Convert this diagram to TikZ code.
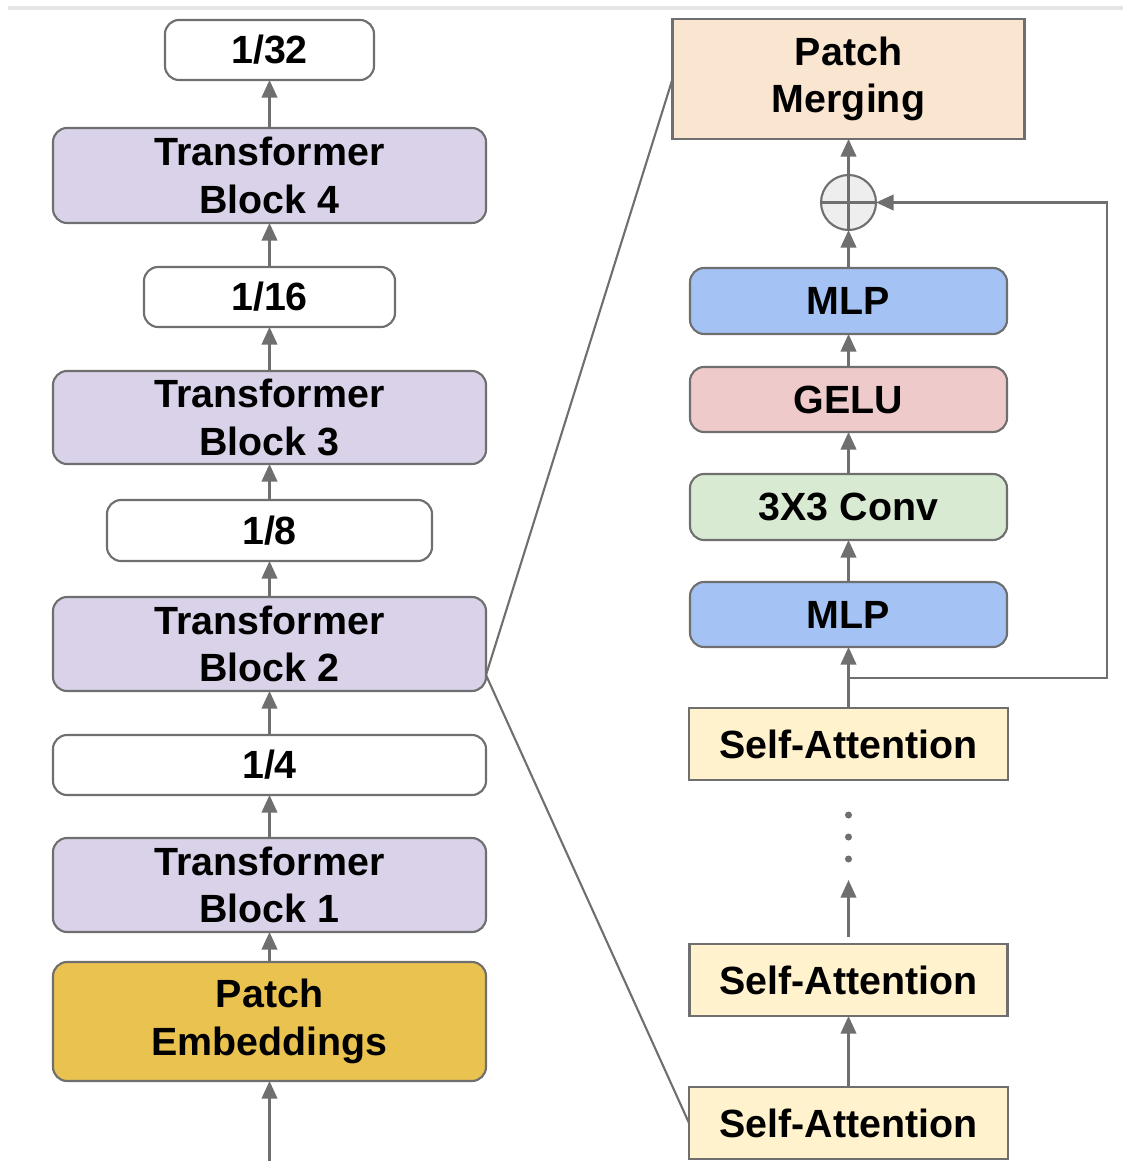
\documentclass[tikz,border=0pt]{standalone}
\usepackage{fontspec}
\setmainfont{Liberation Sans}
\usetikzlibrary{positioning, arrows.meta}
\usetikzlibrary{calc}

\definecolor{edgegray}{HTML}{6F6F6F}
\definecolor{tbfill}{HTML}{D9D2E9}
\definecolor{pefill}{HTML}{E9C24F}
\definecolor{pmfill}{HTML}{FAE5D0}
\definecolor{mlpfill}{HTML}{A4C2F4}
\definecolor{gelufill}{HTML}{EECACA}
\definecolor{convfill}{HTML}{D9EAD3}
\definecolor{safill}{HTML}{FFF2CC}
\definecolor{addfill}{HTML}{EEEEEE}

\begin{document}
\begin{tikzpicture}[font=\fontsize{11.2}{13.6}\selectfont\bfseries,
        box/.style={draw=edgegray, line width=0.6pt, inner sep=0pt, outer sep=0pt, align=center, text=black},
        rbox/.style={box, rounded corners=4pt},
        up/.style={draw=edgegray, line width=0.7pt, -{Triangle[length=5pt,width=4.4pt]}},
        zoomline/.style={draw=edgegray, line width=0.6pt}]
        \useasboundingbox (0,0) rectangle (11.23,-11.61);
        \draw[gray!20, line width=0.9pt] (0.08,-0.08) -- (11.23,-0.08);

        % left column
        \node[rbox, fill=pefill, minimum width=4.33cm, minimum height=1.19cm] (pe) at (2.695,-10.215) {Patch\\Embeddings};
        \node[rbox, fill=tbfill, minimum width=4.33cm, minimum height=0.94cm] (tb1) [above=0.30cm of pe] {Transformer\\Block 1};
        \node[rbox, fill=white, minimum width=4.33cm, minimum height=0.60cm] (q4) [above=0.43cm of tb1] {1/4};
        \node[rbox, fill=tbfill, minimum width=4.33cm, minimum height=0.94cm] (tb2) [above=0.44cm of q4] {Transformer\\Block 2};
        \node[rbox, fill=white, minimum width=3.25cm, minimum height=0.61cm] (q8) [above=0.36cm of tb2] {1/8};
        \node[rbox, fill=tbfill, minimum width=4.33cm, minimum height=0.93cm] (tb3) [above=0.36cm of q8] {Transformer\\Block 3};
        \node[rbox, fill=white, minimum width=2.51cm, minimum height=0.60cm] (q16) [above=0.44cm of tb3] {1/16};
        \node[rbox, fill=tbfill, minimum width=4.33cm, minimum height=0.95cm] (tb4) [above=0.44cm of q16] {Transformer\\Block 4};
        \node[rbox, fill=white, minimum width=2.09cm, minimum height=0.60cm] (q32) [above=0.48cm of tb4] {1/32};
        \coordinate (inp) at ($(pe.south)+(0,-0.80)$);

        \foreach \a/\b in {inp/pe, pe/tb1, tb1/q4, q4/tb2, tb2/q8, q8/tb3, tb3/q16, q16/tb4, tb4/q32}
          \draw[up] (\a) -- (\b);

        % right column
        \node[box, fill=safill, minimum width=3.19cm, minimum height=0.72cm] (sa3) at (8.485,-11.23) {Self-Attention};
        \node[box, fill=safill, minimum width=3.18cm, minimum height=0.72cm] (sa2) [above=0.71cm of sa3] {Self-Attention};
        \node[box, fill=safill, minimum width=3.19cm, minimum height=0.72cm] (sa1) [above=1.64cm of sa2] {Self-Attention};
        \node[rbox, fill=mlpfill, minimum width=3.17cm, minimum height=0.65cm] (mlp1) [above=0.61cm of sa1] {MLP};
        \node[rbox, fill=convfill, minimum width=3.17cm, minimum height=0.66cm] (conv) [above=0.42cm of mlp1] {3X3 Conv};
        \node[rbox, fill=gelufill, minimum width=3.17cm, minimum height=0.65cm] (gelu) [above=0.42cm of conv] {GELU};
        \node[rbox, fill=mlpfill, minimum width=3.17cm, minimum height=0.66cm] (mlp2) [above=0.33cm of gelu] {MLP};
        \node[circle, draw=edgegray, line width=0.6pt, fill=addfill, inner sep=0pt, outer sep=0pt, minimum size=0.55cm] (add) [above=0.38cm of mlp2] {};
        \draw[edgegray, line width=0.6pt] (add.north) -- (add.south) (add.west) -- (add.east);
        \node[box, fill=pmfill, minimum width=3.52cm, minimum height=1.20cm] (pm) [above=0.36cm of add] {Patch\\Merging};

        \foreach \d in {1,2,3}
          \fill[edgegray] ($(sa1.south)+(0,-0.13-0.22*\d)$) circle (0.035);
        \coordinate (gapbot) at ($(sa2.north)+(0,0.07)$);
        \coordinate (gaptop) at ($(sa1.south)+(0,-1.00)$);
        \coordinate (split) at ($(sa1.north)+(0,0.30)$);
        \coordinate (skip) at ($(split)+(2.585,0)$);

        \foreach \a/\b in {sa3/sa2, gapbot/gaptop, sa1/mlp1, mlp1/conv, conv/gelu, gelu/mlp2, mlp2/add, add/pm}
          \draw[up] (\a) -- (\b);
        \draw[up] (split) -- (skip) |- (add);

        % zoom lines
        \coordinate (zoompt) at ($(tb2.south east)+(0,0.16)$);
        \draw[zoomline] (pm.west) -- (zoompt) -- (sa3.west);
\end{tikzpicture}
\end{document}
